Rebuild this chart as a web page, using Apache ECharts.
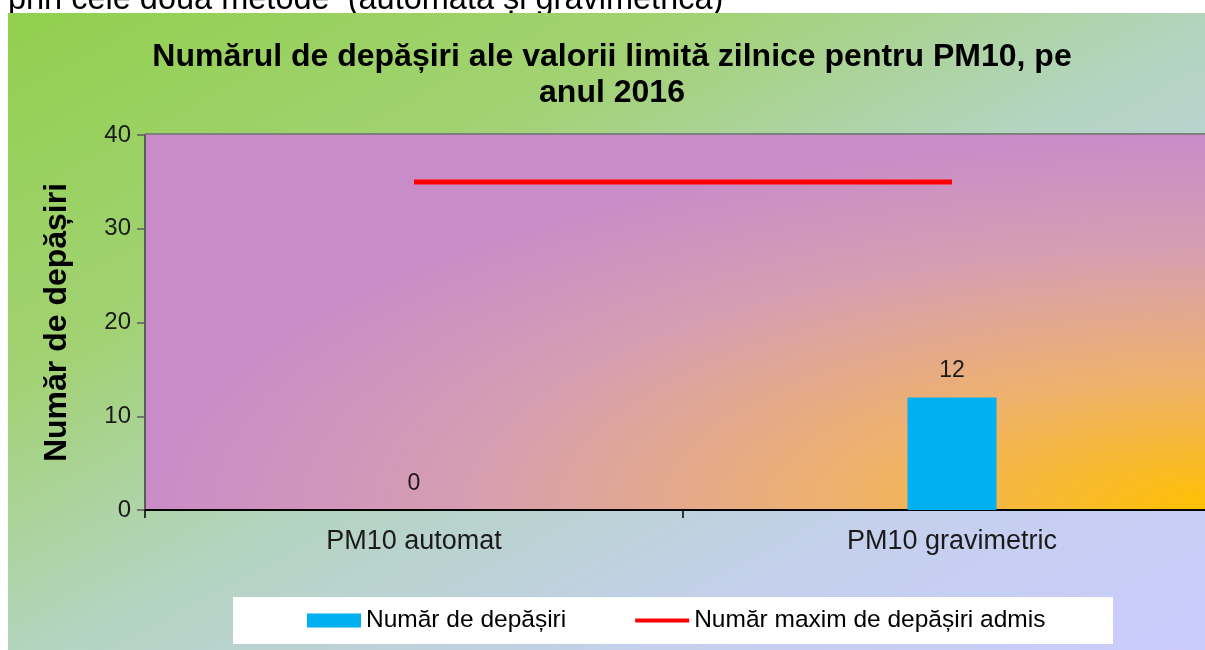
<!DOCTYPE html>
<html><head><meta charset="utf-8">
<script src="https://cdn.jsdelivr.net/npm/echarts@6/dist/echarts.min.js"></script>
<style>html,body{margin:0;padding:0;background:#fff;overflow:hidden;width:1205px;height:650px}#c{width:1230px;height:650px}</style>
</head><body><div id="c"></div>
<script>
// ---- data ----
const categories = ['PM10 automat', 'PM10 gravimetric'];
const exceedances = [0, 12];
const maxAllowed = [35, 35];
const yTicks = [0, 10, 20, 30, 40];
const titleLines = ['Numărul de depășiri ale valorii limită zilnice pentru PM10, pe', 'anul 2016'];
const seriesNames = ['Număr de depășiri', 'Număr maxim de depășiri admis'];
const yAxisName = 'Număr de depășiri';
const pageText = 'prin cele două metode  (automată și gravimetrică)';

// ---- layout ----
const CW = 1230, VW = 1205, H = 650;       // canvas width (plot runs past the visible edge), visible width
const grid = {left: 145, top: 135, right: 9, bottom: 140};
const plotW = CW - grid.left - grid.right;
const plotH = H - grid.top - grid.bottom;
const FONT = '"Liberation Sans", Arial, Helvetica, sans-serif';

const chart = echarts.init(document.getElementById('c'), null, {renderer: 'canvas'});

const plotGradient = new echarts.graphic.RadialGradient(1, 1, 1, [
  {offset: 0, color: '#ffc000'},
  {offset: 0.35, color: '#efb26c'},
  {offset: 0.7, color: '#d69eb2'},
  {offset: 1, color: '#c98cc8'}
]);
// background: diagonal gradient with isolines along the box's anti-diagonal
const bx = 8, by = 13, bw = VW - bx, bh = H - by;
const lam = 2 * bw * bh / (bw * bw + bh * bh);
const bgGradient = new echarts.graphic.LinearGradient(bx, by, bx + lam * bh, by + lam * bw, [
  {offset: 0, color: '#92d050'},
  {offset: 0.28, color: '#a2d274'},
  {offset: 0.5, color: '#b4d4c0'},
  {offset: 0.75, color: '#c4d0ec'},
  {offset: 1, color: '#ccccff'}
], true);

chart.setOption({
  backgroundColor: '#ffffff',
  animation: false,
  textStyle: {fontFamily: FONT},
  title: {
    text: titleLines.join('\n'),
    left: 612, top: 39, textAlign: 'center', padding: 0,
    textStyle: {fontSize: 32, fontWeight: 'bold', color: '#000', lineHeight: 36, fontFamily: FONT}
  },
  graphic: [
    {type: 'text', z: -5, x: 8, y: 0,
     style: {text: pageText, font: '32.5px ' + FONT, fill: '#000', verticalAlign: 'middle'}},
    {type: 'rect', z: -4, x: bx, y: by, shape: {width: CW - bx, height: bh},
     style: {fill: bgGradient}},
    {type: 'rect', z: -3, x: grid.left, y: grid.top, scaleX: plotW / plotH,
     shape: {width: plotH, height: plotH}, style: {fill: plotGradient}},
    {type: 'line', z: -2, shape: {x1: grid.left, y1: grid.top - 1, x2: CW, y2: grid.top - 1},
     style: {stroke: '#7f7f7f', lineWidth: 2}},
    {type: 'rect', z: -2, x: 233, y: 597, shape: {width: 880, height: 47},
     style: {fill: '#ffffff'}}
  ],
  legend: {
    left: 307, top: 608, padding: 0, itemGap: 69,
    itemWidth: 54, itemHeight: 14,
    textStyle: {fontSize: 24.5, color: '#000', fontFamily: FONT},
    data: [
      {name: seriesNames[0], icon: 'rect'},
      {name: seriesNames[1], icon: 'path://M0,0L56,0L56,4L0,4Z', itemStyle: {color: '#ff0000'}}
    ]
  },
  grid: {left: grid.left, top: grid.top, right: grid.right, bottom: grid.bottom, containLabel: false},
  xAxis: {
    type: 'category', data: categories,
    axisLine: {lineStyle: {color: '#000', width: 2}},
    axisTick: {show: true, length: 8, alignWithLabel: false, lineStyle: {color: '#000', width: 1.5}},
    axisLabel: {fontSize: 27, color: '#1a1a1a', margin: 18, fontFamily: FONT},
    splitLine: {show: false}
  },
  yAxis: {
    type: 'value',
    min: yTicks[0], max: yTicks[yTicks.length - 1], interval: yTicks[1] - yTicks[0],
    name: yAxisName, nameLocation: 'middle', nameRotate: 90, nameGap: 72,
    nameTextStyle: {fontSize: 32, fontWeight: 'bold', color: '#000', fontFamily: FONT},
    axisLine: {show: true, lineStyle: {color: '#5a5a5a', width: 2}},
    axisTick: {show: true, length: 8, inside: false, lineStyle: {color: '#5a5a5a', width: 1.5}},
    axisLabel: {fontSize: 24, color: '#1a1a1a', margin: 14, fontFamily: FONT},
    splitLine: {show: false}
  },
  series: [
    {
      name: seriesNames[0], type: 'bar', data: exceedances, barWidth: 89,
      itemStyle: {color: '#00b0f0'},
      label: {show: true, position: 'top', distance: 15, fontSize: 23, color: '#1a1a1a', fontFamily: FONT}
    },
    {
      name: seriesNames[1], type: 'line', data: maxAllowed, symbol: 'none', z: 3,
      itemStyle: {color: '#ff0000'},
      lineStyle: {color: '#ff0000', width: 5}
    }
  ]
});
</script></body></html>
